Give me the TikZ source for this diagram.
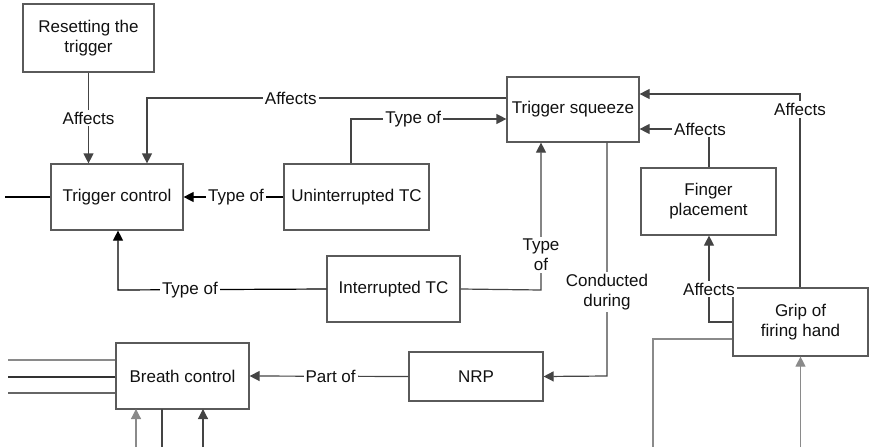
\documentclass[tikz,border=0pt]{standalone}
\usepackage{fontspec}
\setmainfont{Liberation Sans}
\usetikzlibrary{arrows.meta}
\definecolor{boxline}{HTML}{5A5A5A}
\definecolor{dark}{HTML}{444444}
\definecolor{mid}{HTML}{666666}
\definecolor{light}{HTML}{8A8A8A}
\definecolor{ink}{HTML}{111111}
\begin{document}
\begin{tikzpicture}[x=1pt,y=-1pt,
  font=\fontsize{17}{20}\selectfont, text=ink,
  box/.style 2 args={draw=boxline, line width=1.2pt, fill=white, inner sep=2pt,
    minimum width=#1pt, minimum height=#2pt, align=center},
  lbl/.style={fill=white, inner sep=2pt, align=center, font=\fontsize{17}{20}\selectfont},
  conn/.style={line width=1.2pt, draw=#1},
  conn/.default=dark,
  tip/.style={-{Triangle[length=10pt,width=10pt]}},
  tipback/.style={{Triangle[length=10pt,width=10pt]}-}]

\useasboundingbox (0,0) rectangle (869,447);

% boxes
\node[box={131}{68}] (reset) at (88.5,38)  {Resetting the\\trigger};
\node[box={132}{66}] (tc)    at (117,197)  {Trigger control};
\node[box={145}{66}] (utc)   at (356.5,197){Uninterrupted TC};
\node[box={132}{65}] (sq)    at (573,109.5){Trigger squeeze};
\node[box={135}{67}] (fp)    at (708.5,201.5){Finger\\placement};
\node[box={133}{66}] (itc)   at (393.5,289){Interrupted TC};
\node[box={134}{49}] (nrp)   at (476,376.5){NRP};
\node[box={133}{66}] (bc)    at (182.5,376){Breath control};
\node[box={135}{68}] (grip)  at (800.5,322){Grip of\\firing hand};

% bends and loose ends
\coordinate (sqtc)  at (147,98);
\coordinate (utcup) at (351,119);
\coordinate (itctc) at (118,290);
\coordinate (itcsq) at (541,290);
\coordinate (sqdn)  at (607,376);
\coordinate (fpup)  at (709,129);
\coordinate (grup)  at (800,94);
\coordinate (grfp)  at (709,322);
\coordinate (grdn)  at (653,339);
\coordinate (tcend) at (5,197);

% connectors
\draw[conn, tip] (reset.south) -- node[lbl]{Affects} (reset.south |- tc.north);
\draw[conn, tip] (sq.west |- sqtc) -- node[lbl,pos=0.6]{Affects} (sqtc) -- (sqtc |- tc.north);
\draw[conn, tip] (utcup |- utc.north) -- (utcup) -- node[lbl,pos=0.4]{Type of} (sq.west |- utcup);
\draw[conn=black, tip] (utc.west) -- node[lbl,pos=0.475]{Type of} (tc.east);
\draw[conn=black, tip] (itc.west) -- node[lbl,pos=0.655]{Type of} (itctc) -- (itctc |- tc.south);
\draw[conn, tip] (itc.east) -- (itcsq) -- node[lbl,pos=0.24]{Type\\of} (itcsq |- sq.south);
\draw[conn, tip] (sqdn |- sq.south) -- node[lbl,pos=0.64]{Conducted\\during} (sqdn) -- (nrp.east);
\draw[conn, tip] (nrp.west) -- node[lbl,pos=0.49]{Part of} (bc.east);
\draw[conn, tip] (fpup |- fp.north) -- (fpup) node[lbl,xshift=-9pt]{Affects} -- (sq.east |- fpup);
\draw[conn, tip] (grup |- grip.north) -- node[lbl,pos=0.92]{Affects} (grup) -- (sq.east |- grup);
\draw[conn, tip] (grip.west |- grfp) -- (grfp) -- node[lbl,pos=0.38]{Affects} (grfp |- fp.south);
\draw[conn=light] (grip.west |- grdn) -- (grdn) -- (grdn |- 0,447);
\draw[conn=light, tip] (grip.south |- 0,447) -- (grip.south);
\draw[conn=black] (tc.west) -- (tcend);

% loose lines around breath control
\draw[conn=light] (bc.west |- 0,360) -- (8,360);
\draw[conn=black!80] (bc.west |- 0,377) -- (8,377);
\draw[conn=mid] (bc.west |- 0,393) -- (8,393);
\draw[conn=light, tip] (136,447) -- (136,409);
\draw[conn=dark] (162,409) -- (162,447);
\draw[conn=dark, tip] (203,447) -- (203,409);
\end{tikzpicture}
\end{document}
